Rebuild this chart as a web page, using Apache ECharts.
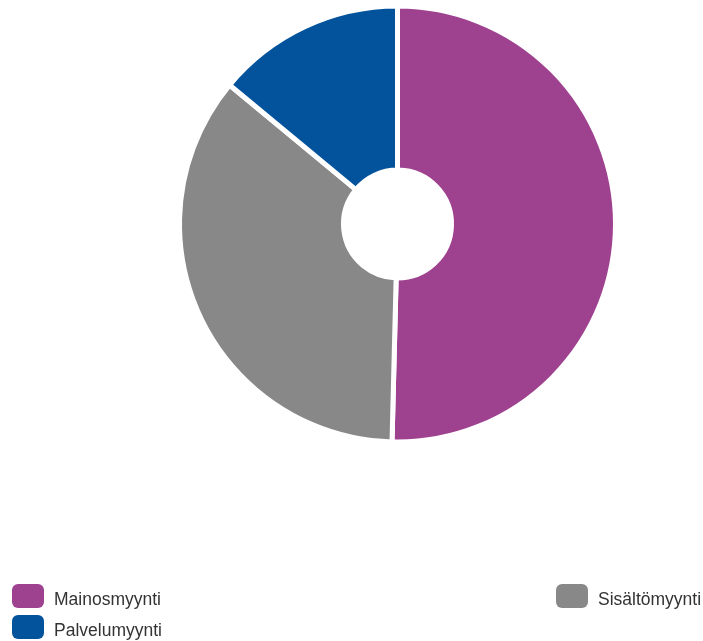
<!DOCTYPE html>
<html>
<head>
<meta charset="utf-8">
<script src="https://cdn.jsdelivr.net/npm/echarts@6/dist/echarts.min.js"></script>
<style>
  html, body { margin: 0; padding: 0; background: #fff; }
  #chart { width: 703px; height: 641px; }
</style>
</head>
<body>
<div id="chart"></div>
<script>
// Revenue split by sales type
const categories = ['Mainosmyynti', 'Sisältömyynti', 'Palvelumyynti'];
const shares = [50.4, 35.6, 14.0];
const colors = ['#9e418f', '#888888', '#02529c'];

const chart = echarts.init(document.getElementById('chart'), null, { renderer: 'canvas' });

const legendText = {
  fontFamily: 'Liberation Sans, Arial, sans-serif',
  fontSize: 17,
  color: '#333',
  rich: {
    t: {
      fontFamily: 'Liberation Sans, Arial, sans-serif',
      fontSize: 17.5,
      color: '#333',
      padding: [9, 0, 0, 5]
    }
  }
};

// one legend block per entry so each can sit at its own spot
function legendAt(name, left, top) {
  return {
    data: [name],
    left: left,
    top: top,
    padding: 0,
    icon: 'roundRect',
    itemWidth: 32,
    itemHeight: 24,
    itemStyle: { borderWidth: 0 },
    textStyle: legendText,
    formatter: n => '{t|' + n + '}',
    selectedMode: false
  };
}

chart.setOption({
  animation: false,
  color: colors,
  legend: [
    legendAt(categories[0], 12, 584),
    legendAt(categories[2], 12, 615),
    legendAt(categories[1], 556, 584)
  ],
  series: [{
    type: 'pie',
    center: [397.5, 224],
    radius: [54, 218],
    startAngle: 90,
    clockwise: true,
    label: { show: false },
    labelLine: { show: false },
    itemStyle: { borderColor: '#fff', borderWidth: 5 },
    emphasis: { disabled: true },
    data: categories.map((name, i) => ({ name, value: shares[i] }))
  }]
});
</script>
</body>
</html>
